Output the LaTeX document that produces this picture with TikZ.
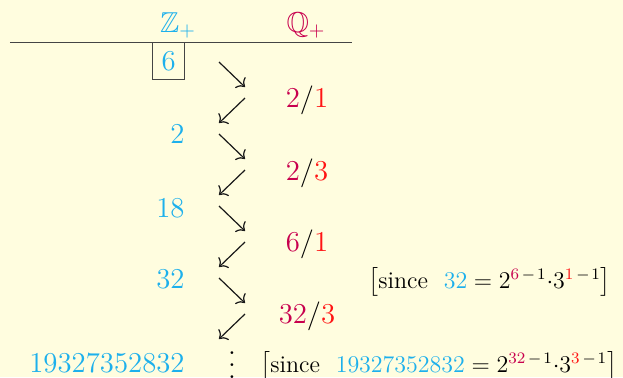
\documentclass[tikz,border=0pt]{standalone}
\usepackage{amsmath,amssymb}
\usetikzlibrary{arrows.meta}
\definecolor{zcyan}{HTML}{1DB0EC}
\definecolor{qcrimson}{HTML}{C8004E}
\definecolor{numred}{HTML}{FF1414}
\definecolor{paper}{HTML}{FFFDDF}
\definecolor{rulegrey}{HTML}{444444}
\tikzset{
  head/.style={anchor=base, inner sep=0pt, font=\Large},
  zint/.style={anchor=base east, inner sep=0pt, text=zcyan, font=\Large},
  qrat/.style={anchor=base, inner sep=0pt, font=\Large},
  note/.style={anchor=base west, inner sep=0pt, font=\large},
  zig/.style={-{To[length=3.5pt,width=7.5pt]}, line width=0.6pt, draw=black!90},
}
\newcommand{\zcol}[1]{\textcolor{zcyan}{#1}}
\newcommand{\qcol}[1]{\textcolor{qcrimson}{#1}}
\newcommand{\rcol}[1]{\textcolor{numred}{#1}}
\newcommand{\qfrac}[2]{$\qcol{#1}/\rcol{#2}$}
\newcommand{\lessone}{\mkern3mu-\mkern2mu1}
\newcommand{\lbk}{\mathopen{\left[\vcenter to 15pt{}\right.\kern-\nulldelimiterspace}}
\newcommand{\rbk}{\mathclose{\kern-\nulldelimiterspace\left.\vcenter to 15pt{}\right]}}
\newcommand{\dotcol}{\vbox{\baselineskip6pt\lineskiplimit0pt\hbox{.}\hbox{.}\hbox{.}}}

\begin{document}
\begin{tikzpicture}[x=0.5pt, y=-0.5pt]
  \fill[paper] (0,0) rectangle (623,377);
  \useasboundingbox (0,0) rectangle (623,377);

  % column heads and rule
  \node[head, text=zcyan] (zhead) at (178,32) {$\mathbb{Z}_+$};
  \node[head, text=qcrimson] (qhead) at (306,32) {$\mathbb{Q}_+$};
  \draw[rulegrey, line width=0.5pt] (10,42) -- (352,42);

  % integers
  \node[zint, draw=rulegrey, inner sep=4.4pt] (z6) at (185,70) {6};
  \node[zint] (z2) at (185,143) {2};
  \node[zint] (z18) at (185,217) {18};
  \node[zint] (z32) at (185,288) {32};
  \node[zint] (zbig) at (185,372) {19327352832};

  % rationals
  \node[qrat] (q21) at (307,107) {\qfrac{2}{1}};
  \node[qrat] (q23) at (307,180) {\qfrac{2}{3}};
  \node[qrat] (q61) at (307,251) {\qfrac{6}{1}};
  \node[qrat] (q323) at (307,323) {\qfrac{32}{3}};

  % zig-zag
  \foreach \k in {0,...,3}{
    \coordinate (ra\k) at (219,{62+72*\k});
    \coordinate (rb\k) at (245,{87+72*\k});
    \coordinate (la\k) at (245,{98+72*\k});
    \coordinate (lb\k) at (219,{123+72*\k});
    \draw[zig] (ra\k) -- (rb\k);
    \draw[zig] (la\k) -- (lb\k);
  }
  \node[anchor=north, inner sep=0pt, font=\Large] (more) at (232,351.5) {\dotcol};

  % reasons
  \node[note] (why32) at (368,288)
    {$\lbk\text{since}\ \ \zcol{32} = 2^{\qcol{6}\lessone}{\cdot}3^{\rcol{1}\lessone}\rbk$};
  \node[note] (whybig) at (260,372)
    {$\lbk\text{since}\ \ \zcol{19327352832} = 2^{\qcol{32}\lessone}{\cdot}3^{\rcol{3}\lessone}\rbk$};
\end{tikzpicture}
\end{document}
